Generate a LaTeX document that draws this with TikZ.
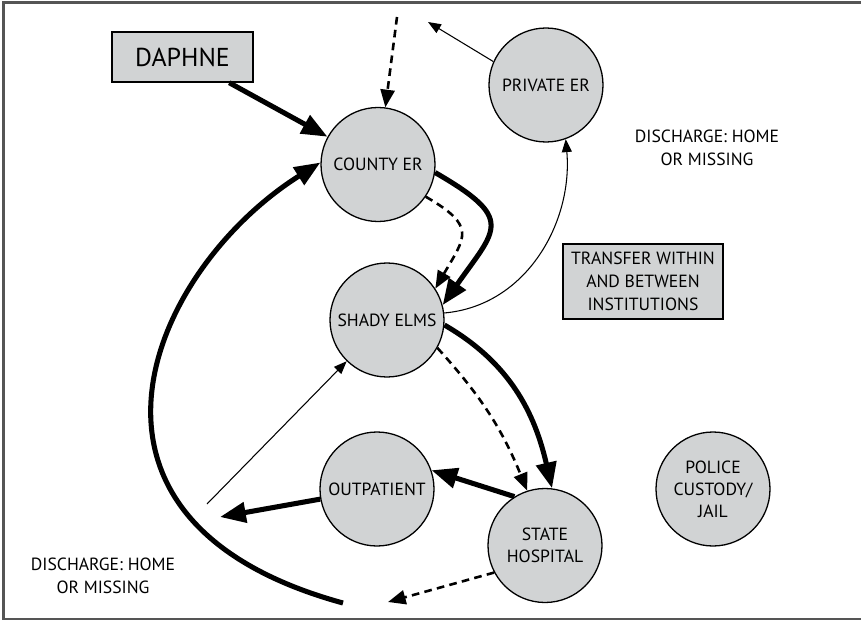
\documentclass[tikz,border=0pt]{standalone}
\usepackage{fontspec}
\setmainfont{PT Sans}
\usetikzlibrary{arrows.meta,positioning}
\definecolor{placegray}{RGB}{209,211,212}
\definecolor{framegray}{RGB}{85,85,85}

\begin{document}
\begin{tikzpicture}[x=0.85pt,y=-0.85pt,
  place/.style={draw,circle,fill=placegray,line width=1.1pt,minimum size=96.9pt,inner sep=0pt,align=center,font=\fontsize{15}{18.7}\selectfont},
  infobox/.style={draw,fill=placegray,line width=1.2pt,align=center,inner sep=0pt},
  heavy/.style={line width=4.3pt,-{Triangle[length=22pt,width=17pt]}},
  dashflow/.style={line width=2.2pt,dash pattern=on 6.5pt off 4.5pt,-{Triangle[length=15pt,width=12pt]}},
  thinflow/.style={line width=0.9pt,-{Triangle[length=11pt,width=8.5pt]}}]
\useasboundingbox (0,0) rectangle (861,621);
\draw[framegray,line width=1.8pt] (870,2.5) -- (3.5,2.5) -- (3.5,619) -- (870,619);

\node[place](county) at (378,164.5){COUNTY ER};
\node[place](shady) at (387,320){SHADY ELMS};
\node[place](outpat) at (377,489){OUTPATIENT};
\node[place](state) at (545,545.5){STATE\\HOSPITAL};
\node[place](private) at (546,85){PRIVATE ER};
\node[place](police) at (713,489){POLICE\\CUSTODY/\\JAIL};
\node[infobox,minimum width=119.85pt,minimum height=42.5pt,font=\fontsize{22}{26}\selectfont](daphne) at (182.5,57){DAPHNE};
\node[infobox,minimum width=136pt,minimum height=63.75pt,font=\fontsize{15}{19.5}\selectfont](transfer) at (643,281.5){TRANSFER WITHIN\\AND BETWEEN\\INSTITUTIONS};
\node[align=center,font=\fontsize{15}{19.5}\selectfont](dischright) at (707,148){DISCHARGE: HOME\\OR MISSING};
\node[align=center,font=\fontsize{15}{19.5}\selectfont](dischleft) at (103,576){DISCHARGE: HOME\\OR MISSING};

% free ends
\coordinate (topin) at (397,17);
\coordinate (privout) at (428,22);
\coordinate (outleft) at (220,517);
\coordinate (backstart) at (207,504);
\coordinate (dashout) at (388,602);
\coordinate (loopstart) at (343,603);

\draw[heavy] (daphne) -- (county);
\draw[dashflow] (topin) -- (county);
\draw[thinflow] (private.156) -- (privout);
\draw[heavy] (county.-8) to[out=-30,in=55,looseness=1.8] (shady.15);
\draw[dashflow] (county.-34) to[out=-30,in=60,looseness=1.65] (shady.33);
\draw[thinflow] (shady.7) to[out=5,in=-85] (private.-70);
\draw[heavy] (shady.-5) to[out=-30,in=103] (state.83);
\draw[dashflow] (shady.-29) to[bend left=10] (state.108);
\draw[heavy] (state.122) -- (outpat.19);
\draw[heavy] (outpat) -- (outleft);
\draw[thinflow] (backstart) -- (shady);
\draw[dashflow] (state.208) -- (dashout);
\draw[heavy] (loopstart) .. controls (40,520) and (150,270) .. (county.178);
\end{tikzpicture}
\end{document}
